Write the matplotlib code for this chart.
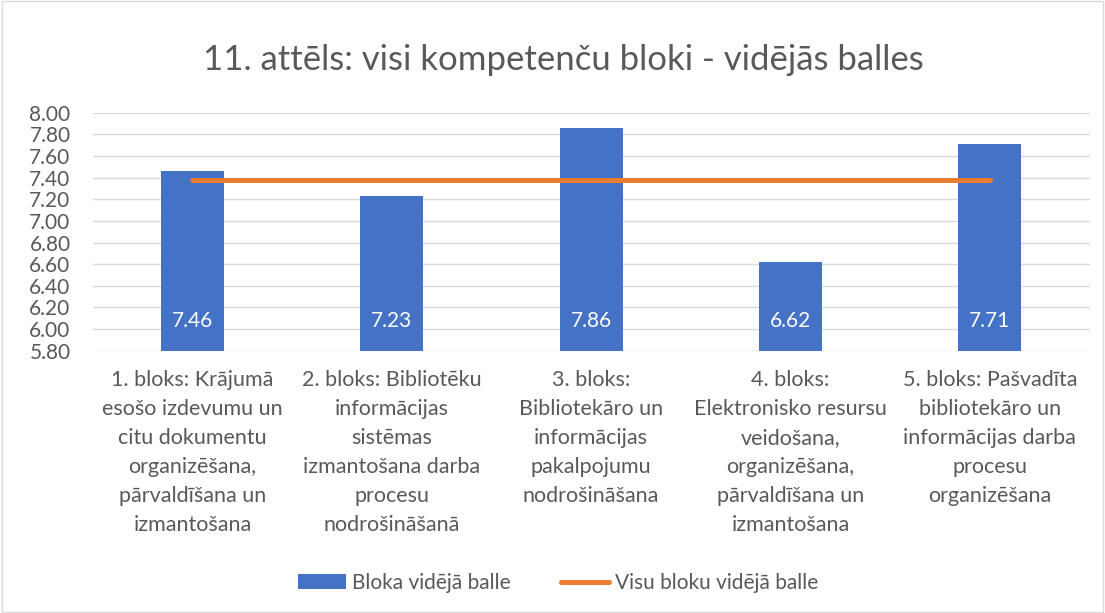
import matplotlib.pyplot as plt
from matplotlib.patches import Rectangle

plt.rcParams['font.family'] = ['Lato', 'DejaVu Sans']

categories = [
    "1. bloks: Krājumā\nesošo izdevumu un\ncitu dokumentu\norganizēšana,\npārvaldīšana un\nizmantošana",
    "2. bloks: Bibliotēku\ninformācijas\nsistēmas\nizmantošana darba\nprocesu\nnodrošināšanā",
    "3. bloks:\nBibliotekāro un\ninformācijas\npakalpojumu\nnodrošināšana",
    "4. bloks:\nElektronisko resursu\nveidošana,\norganizēšana,\npārvaldīšana un\nizmantošana",
    "5. bloks: Pašvadīta\nbibliotekāro un\ninformācijas darba\nprocesu\norganizēšana",
]
block_avg = [7.46, 7.23, 7.86, 6.62, 7.71]
overall_avg = [7.38, 7.38, 7.38, 7.38, 7.38]
yticks = [5.8, 6.0, 6.2, 6.4, 6.6, 6.8, 7.0, 7.2, 7.4, 7.6, 7.8, 8.0]

blue = '#4472C4'
orange = '#ED7D31'
grey = '#595959'

fig = plt.figure(figsize=(11.05, 6.13), dpi=100)
ax = fig.add_axes([0.084, 0.428, 0.902, 0.388])

x = list(range(len(categories)))
bars = ax.bar(x, [v - 5.8 for v in block_avg], bottom=5.8, width=0.316, color=blue,
              label='Bloka vidējā balle', zorder=2)
line, = ax.plot(x, overall_avg, color=orange, lw=3.6, solid_capstyle='round',
                label='Visu bloku vidējā balle', zorder=3)

for i, v in enumerate(block_avg):
    ax.annotate(f'{v:.2f}', xy=(i, 5.8), xytext=(0, 21.5), textcoords='offset points',
                ha='center', va='center', color='white', fontsize=15)

ax.set_xlim(-0.5, 4.5)
ax.set_ylim(5.8, 8.0)
ax.set_yticks(yticks)
ax.set_yticklabels([f'{t:.2f}' for t in yticks])
ax.set_xticks(x)
ax.set_xticklabels(categories, linespacing=1.56, fontsize=15.5)
ax.tick_params(axis='both', length=0, colors=grey)
ax.tick_params(axis='y', pad=16, labelsize=15)
ax.tick_params(axis='x', pad=14)
ax.grid(axis='y', color='#D9D9D9', lw=1, zorder=0)
for s in ax.spines.values():
    s.set_visible(False)

fig.text(0.51, 0.902, '11. attēls: visi kompetenču bloki - vidējās balles',
         ha='center', va='center', fontsize=25, color=grey)

fig.legend([bars, line], ['Bloka vidējā balle', 'Visu bloku vidējā balle'],
           loc='center', bbox_to_anchor=(0.505, 0.049), ncol=2, frameon=False,
           fontsize=15, labelcolor=grey, handlelength=2.3, columnspacing=2.4,
           handletextpad=0.3)

fig.patches.append(Rectangle((0.002, 0.002), 0.996, 0.996, transform=fig.transFigure,
                             fill=False, edgecolor='#D9D9D9', lw=1))

plt.savefig('out.png', dpi=100)
